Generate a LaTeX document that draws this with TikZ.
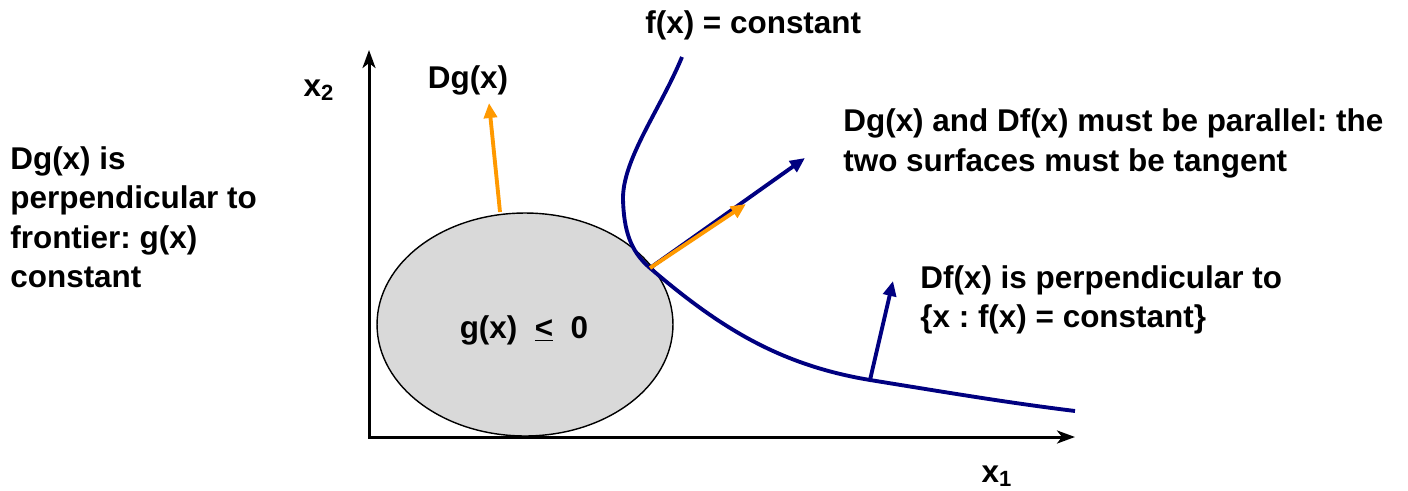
\documentclass[tikz,border=0pt]{standalone}
\usepackage{fontspec}
\setmainfont{Liberation Sans}
\usetikzlibrary{arrows.meta,shapes.geometric}

\definecolor{blunotte}{RGB}{0,0,128}
\definecolor{arancio}{RGB}{255,153,0}
\definecolor{grigio}{RGB}{217,217,217}

\begin{document}
\frenchspacing
\begin{tikzpicture}[
    x=0.02cm, y=-0.02cm,
    testo/.style={font=\fontsize{17.9}{22.2}\selectfont\bfseries, inner sep=0pt, align=left},
    assi/.style={{Stealth[length=0.36cm, width=0.26cm, inset=0.1cm]}-{Stealth[length=0.36cm, width=0.26cm, inset=0.1cm]}, line width=1.7pt},
    curva/.style={draw=blunotte, line width=2.2pt},
    grad/.style={-{Triangle[length=0.3cm, width=0.26cm]}, line width=2.2pt},
    regione/.style={ellipse, draw=black, line width=0.8pt, fill=grigio, inner sep=0pt, minimum width=5.92cm, minimum height=4.46cm}
]

    % riquadro della figura
    \useasboundingbox (0,0) rectangle (1408,490);

    % 1. Assi cartesiani
    \coordinate (O)  at (369,437);
    \coordinate (X1) at (1075,437);
    \coordinate (X2) at (369,50);
    \draw[assi] (X2) -- (O) -- (X1);
    \node[testo, anchor=base] (lx2) at (319,96) {x\textsubscript{2}};
    \node[testo, anchor=base] (lx1) at (997,482) {x\textsubscript{1}};

    % 2. Regione ammissibile g(x) <= 0
    \node[regione] (G) at (525,324.5) {};
    \node[testo, anchor=base] (lg) at (524,338) {g(x)\ \ \underline{<}\ \ 0};

    % 3. Curva di livello f(x) = costante
    \coordinate (T) at (650,268);   % punto di tangenza
    \coordinate (P) at (870,380);   % piede di Df(x)
    \draw[curva] (682,57) .. controls (660,110) and (622,160) .. (623,200)
                 .. controls (624,230) and (630,251) .. (T)
                 .. controls (720,328) and (780,365) .. (P)
                 .. controls (950,393) and (1010,403) .. (1075,411);
    \node[testo, anchor=base west] (lf) at (645,33) {f(x) = constant};

    % 4. Gradienti
    \coordinate (Gb) at (500,212);
    \coordinate (Gt) at (489,103);
    \coordinate (Ft) at (805,158);
    \coordinate (Ot) at (746,204);
    \coordinate (Pt) at (893,281);
    \draw[grad, blunotte] (T) -- (Ft);
    \draw[grad, arancio] (T) -- (Ot);
    \draw[grad, arancio] (Gb) -- (Gt);
    \draw[grad, blunotte] (P) -- (Pt);
    \node[testo, anchor=base] (ldg) at (468,88) {Dg(x)};

    % 5. Commenti (ancora sulla linea di base dell'ultima riga)
    \node[testo, anchor=base west] (csx) at (10,287) {Dg(x) is\\perpendicular to\\frontier: g(x)\\constant};
    \node[testo, anchor=base west] (cpar) at (843,171) {Dg(x) and Df(x) must be parallel: the\\two surfaces must be tangent};
    \node[testo, anchor=base west] (cdf) at (920,327) {Df(x) is perpendicular to\\\{x : f(x) = constant\}};

\end{tikzpicture}
\end{document}
